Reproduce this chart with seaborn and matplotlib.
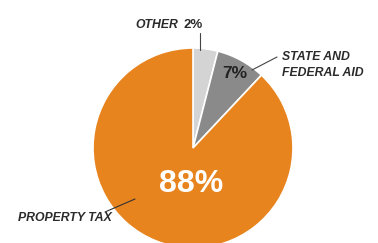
import matplotlib
matplotlib.use("Agg")
import matplotlib.pyplot as plt
import seaborn as sns

# wedge shares as drawn (clockwise from 12 o'clock)
sources = ["OTHER", "STATE AND\nFEDERAL AID", "PROPERTY TAX"]
shares = [4, 8, 88]
pct_labels = ["2%", "7%", "88%"]
colors = ["#d4d4d4", "#8a8a8a", "#e8841e"]

sns.set_theme(style="white")
plt.rcParams['font.family'] = ['Liberation Sans', 'DejaVu Sans']

fig = plt.figure(figsize=(3.78, 2.43), dpi=100)
ax = fig.add_axes([0, 0, 1, 1])
ax.pie(shares, colors=colors, startangle=90, counterclock=False,
       radius=1.0, wedgeprops=dict(edgecolor="white", linewidth=1.2))
ax.set_xlim(-1.93, 1.85)
ax.set_ylim(-0.95, 1.48)
ax.set_aspect("equal")
ax.axis("off")

lab = dict(fontweight="bold", fontstyle="italic", color="#2b2b2b", fontsize=8.8)

# other
ax.text(-0.15, 1.23, sources[0], ha="right", va="center", **lab)
ax.text(-0.09, 1.23, pct_labels[0], ha="left", va="center",
        fontweight="bold", color="#2b2b2b", fontsize=9.5)
ax.plot([0.07, 0.07], [1.15, 0.98], color="#444444", lw=0.8)

# state and federal aid
state_lines = sources[1].split("\n")
ax.text(0.89, 0.91, state_lines[0], ha="left", va="center", **lab)
ax.text(0.89, 0.75, state_lines[1], ha="left", va="center", **lab)
ax.plot([0.59, 0.84], [0.78, 0.91], color="#444444", lw=0.8)
ax.text(0.42, 0.75, pct_labels[1], ha="center", va="center",
        fontweight="bold", color="#222222", fontsize=12.5)

# property tax
ax.text(-0.02, -0.36, pct_labels[2], ha="center", va="center",
        fontweight="bold", color="white", fontsize=23)
ax.text(-1.75, -0.70, sources[2], ha="left", va="center", **lab)
ax.plot([-0.88, -0.58], [-0.64, -0.51], color="#333333", lw=0.8)

fig.savefig("out.png", dpi=100)
